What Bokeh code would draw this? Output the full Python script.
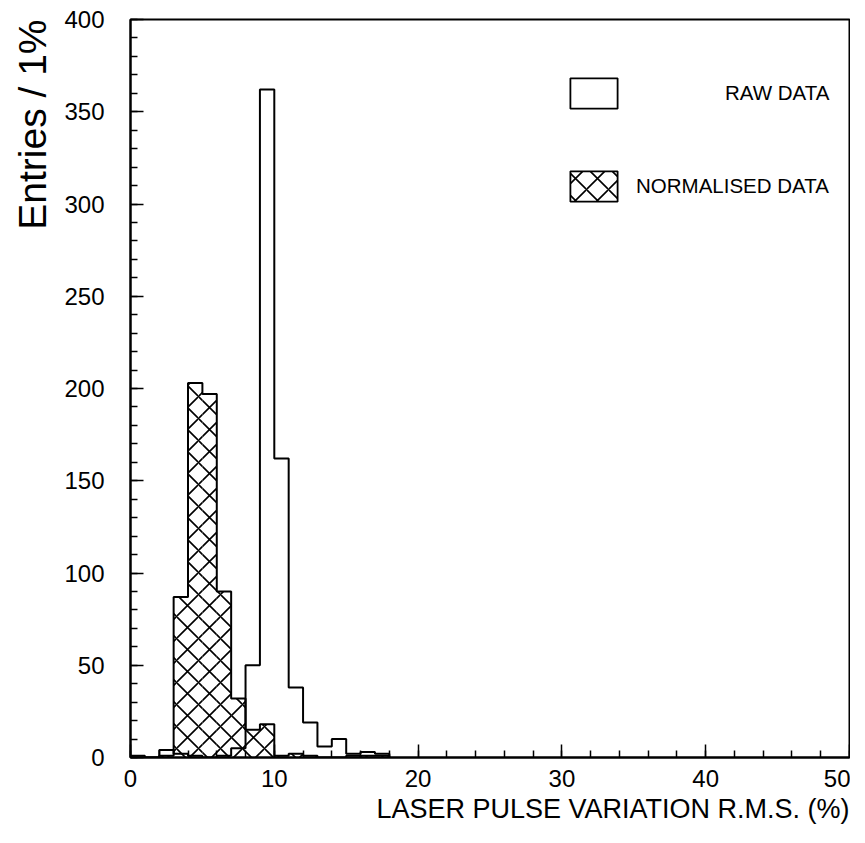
from bokeh.plotting import figure
from bokeh.models import SingleIntervalTicker, Legend, LegendItem, Range1d, Title
from bokeh.embed import file_html
from bokeh.resources import INLINE

# ---- data (1% bins) ----
bin_edges = [0, 1, 2, 3, 4, 5, 6, 7, 8, 9, 10, 11, 12, 13, 14, 15, 16, 17, 18]
raw_counts = [1, 0, 4, 2, 1, 0, 1, 5, 50, 362, 162, 38, 19, 6, 10, 2, 3, 2]
norm_counts = [0, 0, 1, 87, 203, 197, 90, 32, 15, 18, 1, 2, 1, 0, 0, 1, 1, 1]
series_labels = ["RAW DATA", "NORMALISED DATA"]
x_title = "LASER PULSE VARIATION R.M.S. (%)"
y_title = "Entries / 1%"

FONT = "Liberation Sans"
NAN = float("nan")

p = figure(width=850, height=835, x_range=Range1d(0, 50), y_range=Range1d(0, 400),
           output_backend="svg", toolbar_location=None,
           min_border_left=129, min_border_right=1, min_border_top=19, min_border_bottom=78)
p.grid.visible = False
p.background_fill_color = "white"
p.border_fill_color = "white"
p.outline_line_color = "black"
p.outline_line_width = 2

p.xaxis.ticker = SingleIntervalTicker(interval=10, num_minor_ticks=5)
p.yaxis.ticker = SingleIntervalTicker(interval=50, num_minor_ticks=5)
for ax in (p.xaxis, p.yaxis):
    ax.axis_line_color = "black"
    ax.axis_line_width = 2
    ax.major_tick_in = 13
    ax.major_tick_out = 0
    ax.minor_tick_in = 7
    ax.minor_tick_out = 0
    ax.major_tick_line_width = 1.5
    ax.minor_tick_line_width = 1.5
    ax.major_tick_line_color = "black"
    ax.minor_tick_line_color = "black"
    ax.major_label_text_font = FONT
    ax.major_label_text_font_size = "24px"
    ax.major_label_text_color = "black"
p.xaxis.major_label_standoff = 12
p.yaxis.major_label_standoff = 26

# raw data outline
p.step(x=bin_edges, y=raw_counts + [0], mode="after", line_color="black", line_width=2)
# normalised data hatch + outline
p.quad(left=bin_edges[:-1], right=bin_edges[1:], bottom=0, top=norm_counts,
       fill_alpha=0, line_alpha=0, hatch_pattern="x", hatch_color="black",
       hatch_scale=22, hatch_weight=1.6)
p.step(x=bin_edges, y=norm_counts + [0], mode="after", line_color="black", line_width=2)

# legend-only renderers (draw nothing in the plot)
leg_raw = p.quad(left=[NAN], right=[NAN], top=[NAN], bottom=[NAN], fill_color="white",
                 line_color="black", line_width=1.8)
leg_norm = p.quad(left=[NAN], right=[NAN], top=[NAN], bottom=[NAN], fill_color="white",
                  line_color="black", line_width=1.8, hatch_pattern="x",
                  hatch_color="black", hatch_scale=22, hatch_weight=1.6)

def make_legend(label, rend, loc, standoff):
    return Legend(items=[LegendItem(label=label, renderers=[rend])], location=loc,
                  glyph_width=59, glyph_height=38, label_standoff=standoff,
                  padding=0, margin=0, spacing=0, border_line_alpha=0,
                  background_fill_alpha=0, label_text_font=FONT,
                  label_text_font_size="20.5px", label_text_color="black")

p.add_layout(make_legend(series_labels[0], leg_raw, (434, 645), 102))
p.add_layout(make_legend(series_labels[1], leg_norm, (434, 552), 13))

# axis titles
p.add_layout(Title(text=x_title, align="right", text_font=FONT, text_font_size="27px",
                   text_font_style="normal", text_color="black", standoff=5), "below")
p.add_layout(Title(text=y_title, align="right", text_font=FONT, text_font_size="39px",
                   text_font_style="normal", text_color="black", standoff=16), "left")

open("out.html", "w").write(file_html(p, INLINE))
